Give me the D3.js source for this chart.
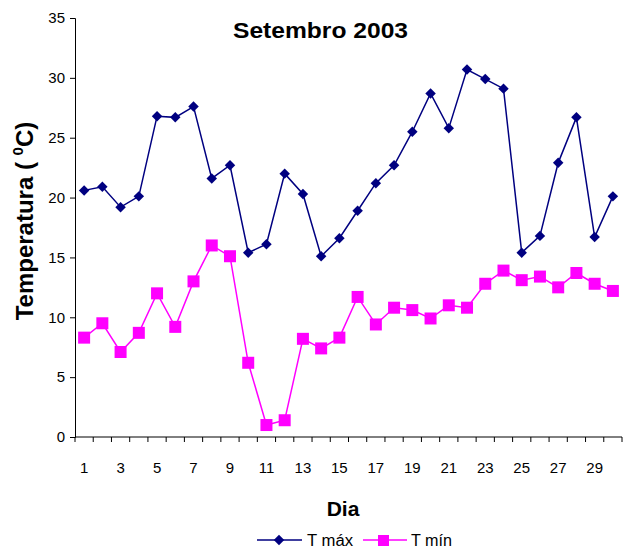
<!DOCTYPE html>
<html>
<head>
<meta charset="utf-8">
<script src="https://cdn.jsdelivr.net/npm/d3@7"></script>
<style>
  body { margin: 0; background: #fff; }
  text { font-family: "Liberation Sans", Arial, sans-serif; }
</style>
</head>
<body>
<div id="chart"></div>
<script>
// dados
const dias = d3.range(1, 31)
const tmax = [20.6, 20.9, 19.2, 20.1, 26.8, 26.7, 27.6, 21.6, 22.7, 15.4,
              16.1, 22.0, 20.3, 15.1, 16.6, 18.9, 21.2, 22.7, 25.5, 28.7,
              25.8, 30.7, 29.9, 29.1, 15.4, 16.8, 22.9, 26.7, 16.7, 20.1]
const tmin = [8.3, 9.5, 7.1, 8.7, 12.0, 9.2, 13.0, 16.0, 15.1, 6.2,
              1.0, 1.4, 8.2, 7.4, 8.3, 11.7, 9.4, 10.8, 10.6, 9.9,
              11.0, 10.8, 12.8, 13.9, 13.1, 13.4, 12.5, 13.7, 12.8, 12.2]
const yTicks = [0, 5, 10, 15, 20, 25, 30, 35]

const width = 638
const height = 549
const mLeft = 75, mRight = 622, mTop = 18, mBottom = 437

const svg = d3.select("#chart")
  .append("svg")
  .attr("width", width)
  .attr("height", height)

// escalas
const x = d3.scaleBand().domain(dias).range([mLeft, mRight])
const y = d3.scaleLinear().domain([0, 35]).range([mBottom, mTop])

// eixo Y
const yAxis = svg.append("g")
  .attr("transform", "translate(" + mLeft + ",0)")
  .call(d3.axisLeft(y).tickValues(yTicks).tickSize(5).tickPadding(5))
yAxis.select(".domain").attr("stroke", "#000")
yAxis.selectAll("text").attr("font-size", 15).attr("fill", "#000")
  .attr("font-family", "Liberation Sans, Arial, sans-serif")

// eixo X (marcas entre categorias)
const xg = svg.append("g")
xg.append("line")
  .attr("x1", mLeft).attr("x2", mRight)
  .attr("y1", mBottom).attr("y2", mBottom)
  .attr("stroke", "#000")
xg.selectAll("line.tick")
  .data(dias.concat([31]))
  .enter()
  .append("line")
  .attr("class", "tick")
  .attr("x1", d => d <= 30 ? x(d) : mRight)
  .attr("x2", d => d <= 30 ? x(d) : mRight)
  .attr("y1", mBottom).attr("y2", mBottom + 5)
  .attr("stroke", "#000")
xg.selectAll("text")
  .data(dias.filter(d => d % 2 == 1))
  .enter()
  .append("text")
  .attr("x", d => x(d) + x.bandwidth() / 2)
  .attr("y", 473)
  .attr("text-anchor", "middle")
  .attr("font-size", 15)
  .text(d => d)

// linhas
const line = d3.line()
  .x((d, i) => x(dias[i]) + x.bandwidth() / 2)
  .y(d => y(d))

svg.append("path").datum(tmin)
  .attr("d", line).attr("fill", "none")
  .attr("stroke", "#FF00FF").attr("stroke-width", 1.5)

svg.selectAll("rect.tmin")
  .data(tmin)
  .enter()
  .append("rect")
  .attr("class", "tmin")
  .attr("x", (d, i) => x(dias[i]) + x.bandwidth() / 2 - 6)
  .attr("y", d => y(d) - 6)
  .attr("width", 12).attr("height", 12)
  .attr("fill", "#FF00FF")

svg.append("path").datum(tmax)
  .attr("d", line).attr("fill", "none")
  .attr("stroke", "#000080").attr("stroke-width", 1.5)

const diamond = d3.symbol().type(d3.symbolDiamond2).size(70)
svg.selectAll("path.tmax")
  .data(tmax)
  .enter()
  .append("path")
  .attr("class", "tmax")
  .attr("d", diamond)
  .attr("transform", (d, i) => "translate(" + (x(dias[i]) + x.bandwidth() / 2) + "," + y(d) + ")")
  .attr("fill", "#000080")

// titulos
svg.append("text")
  .attr("x", 233).attr("y", 38)
  .attr("font-size", 22).attr("font-weight", "bold")
  .attr("textLength", 175).attr("lengthAdjust", "spacingAndGlyphs")
  .text("Setembro 2003")

svg.append("text")
  .attr("x", 343).attr("y", 516)
  .attr("text-anchor", "middle")
  .attr("font-size", 21).attr("font-weight", "bold")
  .text("Dia")

const ylab = svg.append("text")
  .attr("transform", "translate(33,221) rotate(-90)")
  .attr("text-anchor", "middle")
  .attr("font-size", 24).attr("font-weight", "bold")
ylab.append("tspan").text("Temperatura ( ")
ylab.append("tspan").attr("font-size", 15).attr("dy", -10).text("0")
ylab.append("tspan").attr("dy", 10).text("C)")

// legenda
const leg = svg.append("g")
leg.append("line").attr("x1", 257).attr("x2", 302).attr("y1", 540).attr("y2", 540)
  .attr("stroke", "#000080").attr("stroke-width", 1.5)
leg.append("path").attr("d", diamond).attr("transform", "translate(279,540)").attr("fill", "#000080")
leg.append("text").attr("x", 307).attr("y", 546).attr("font-size", 16)
  .attr("textLength", 46).attr("lengthAdjust", "spacingAndGlyphs").text("T máx")
leg.append("line").attr("x1", 363).attr("x2", 407).attr("y1", 540).attr("y2", 540)
  .attr("stroke", "#FF00FF").attr("stroke-width", 1.5)
leg.append("rect").attr("x", 378).attr("y", 535).attr("width", 11).attr("height", 11).attr("fill", "#FF00FF")
leg.append("text").attr("x", 411).attr("y", 546).attr("font-size", 16)
  .attr("textLength", 41).attr("lengthAdjust", "spacingAndGlyphs").text("T mín")
</script>
</body>
</html>
